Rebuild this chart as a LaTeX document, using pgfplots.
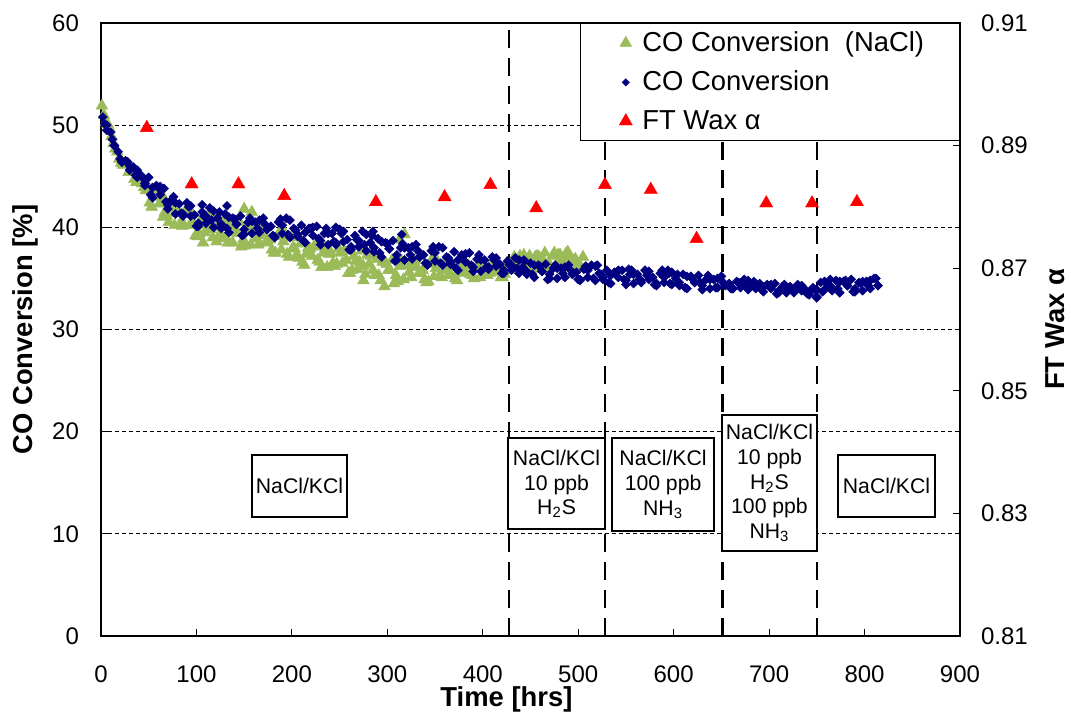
\documentclass[border=0pt]{standalone}
\usepackage{fontspec}
\setmainfont{Liberation Sans}
\usepackage{pgfplots}
\pgfplotsset{compat=1.18}
\definecolor{cogreen}{HTML}{9BBB59}
\definecolor{conavy}{HTML}{000080}
\definecolor{wred}{HTML}{FF0000}
\newcommand{\tfont}{\fontsize{12}{14}\selectfont}
\newcommand{\lfont}{\fontsize{13.7}{16}\selectfont}
\begin{document}
\begin{tikzpicture}[box/.style={draw=black, line width=1pt, fill=white, align=center, inner sep=0pt, font=\fontsize{10.6}{12.3}\selectfont}]
\begin{axis}[
  scale only axis, width=429.5pt, height=306.5pt,
  xmin=0, xmax=900, ymin=0, ymax=60,
  xtick={0,100,...,900}, ytick={0,10,...,60},
  xtick pos=bottom, ytick pos=left,
  tick align=inside, major tick length=3.5pt,
  tick style={black, line width=0.6pt},
  axis line style={black, line width=1.1pt},
  ymajorgrids, major grid style={black, line width=0.5pt, dash pattern=on 2pt off 1.5pt},
  tick label style={font=\tfont},
  /pgf/number format/assume math mode=true,
  xticklabel style={yshift=-11.5pt},
  yticklabel style={xshift=-7.5pt},
  xlabel={Time [hrs]},
  xlabel style={at={(axis description cs:0.472,-0.104)}, anchor=center, font=\lfont\bfseries},
  ylabel={CO Conversion [\%]},
  ylabel style={at={(axis description cs:-0.0885,0.5)}, anchor=center, font=\lfont\bfseries},
  clip=false,
]
\coordinate (O) at (rel axis cs:0,0);
% CO Conversion (NaCl)
\addplot[only marks, mark=triangle*, mark size=3.4pt, color=cogreen, mark options={line width=0.2pt}] table[row sep=\\] {
1 51.9\\5 50.3\\9 49.7\\13 48.2\\17 47.4\\21 46.3\\25 46.3\\29 45.4\\33 45.7\\37 44.4\\
41 44.5\\45 43.9\\49 44.0\\53 42.0\\57 43.4\\61 42.3\\65 43.0\\69 41.1\\73 41.8\\77 40.2\\
81 41.4\\85 40.1\\89 41.7\\93 40.2\\97 40.4\\101 39.1\\105 40.8\\109 39.5\\113 41.3\\117 39.0\\
121 40.0\\125 39.4\\129 40.6\\133 38.5\\137 40.2\\141 39.5\\145 40.5\\149 38.8\\153 39.7\\157 38.3\\
161 39.7\\165 38.3\\169 40.0\\173 38.6\\177 38.8\\181 37.5\\185 39.1\\189 37.8\\193 39.4\\197 37.1\\
201 38.0\\205 37.3\\209 38.4\\213 36.3\\217 38.0\\221 37.2\\225 38.2\\229 36.6\\233 37.5\\237 36.1\\
241 37.5\\245 36.2\\249 37.9\\253 36.5\\257 36.8\\261 35.5\\265 37.2\\269 35.9\\273 37.7\\277 35.4\\
281 36.4\\285 35.8\\289 36.9\\293 34.8\\297 36.6\\301 35.8\\305 36.8\\309 35.3\\313 36.2\\317 34.9\\
321 36.3\\325 35.1\\329 36.8\\333 35.5\\337 35.8\\341 34.6\\345 36.4\\349 35.2\\353 36.6\\357 35.1\\
361 35.9\\365 35.4\\369 36.2\\373 34.8\\377 36.0\\381 35.5\\385 36.3\\389 35.3\\393 36.0\\397 35.1\\
401 36.1\\405 35.3\\409 36.5\\413 35.6\\417 35.9\\421 35.1\\425 36.5\\429 35.8\\433 37.1\\437 35.8\\
441 36.7\\445 36.3\\449 37.2\\453 35.9\\457 37.2\\461 36.7\\465 37.5\\469 36.5\\473 37.2\\477 36.3\\
481 37.3\\485 36.5\\489 37.6\\493 36.7\\497 36.9\\501 36.0\\505 37.1\\
3 51.0\\11 48.9\\19 46.7\\27 46.2\\35 44.7\\43 44.3\\51 42.4\\59 43.2\\67 41.5\\75 42.3\\
83 40.4\\91 41.3\\99 39.2\\107 40.3\\115 39.8\\123 40.9\\131 39.0\\139 40.1\\147 38.1\\155 40.1\\
163 38.9\\171 39.2\\179 37.8\\187 39.5\\195 37.4\\203 37.9\\211 36.6\\219 37.9\\227 36.8\\235 38.0\\
243 36.5\\251 37.5\\259 35.5\\267 36.7\\275 36.2\\283 37.2\\291 35.3\\299 36.4\\307 34.5\\315 36.7\\
323 35.6\\331 36.1\\339 34.9\\347 36.9\\355 35.3\\363 35.8\\371 35.0\\379 36.0\\387 35.4\\395 36.4\\
403 35.5\\411 36.3\\419 35.1\\427 36.2\\435 36.3\\443 37.3\\451 36.2\\459 37.1\\467 36.0\\475 37.5\\
483 36.8\\491 37.1\\499 36.2\\
7 50.1\\15 47.7\\23 46.1\\31 45.5\\39 45.1\\47 43.6\\55 43.0\\63 43.0\\71 40.5\\79 41.4\\
87 40.2\\95 41.4\\103 39.4\\111 40.2\\119 40.9\\127 38.9\\135 40.3\\143 39.4\\151 38.2\\159 39.7\\
167 39.7\\175 38.5\\183 37.5\\191 38.6\\199 39.0\\207 37.0\\215 37.4\\223 38.1\\231 36.1\\239 37.4\\
247 36.4\\255 37.7\\263 35.8\\271 36.6\\279 37.3\\287 35.3\\295 36.6\\303 35.8\\311 34.7\\319 36.3\\
327 36.5\\335 35.5\\343 34.7\\351 36.0\\359 36.5\\367 35.3\\375 35.6\\383 36.2\\391 35.0\\399 36.0\\
407 35.5\\415 36.4\\423 35.4\\431 36.4\\439 37.2\\447 36.0\\455 37.1\\463 36.8\\471 36.1\\479 37.3\\
487 37.4\\495 36.7\\503 36.1\\
65 41.0\\107 38.5\\121 38.6\\138 38.5\\148 38.3\\150 41.8\\158 41.5\\275 34.8\\297 34.2\\313 38.8\\318 39.3\\
};
% CO Conversion
\addplot[only marks, mark=square*, mark size=1.6pt, color=conavy, mark options={rotate=45, line width=0.2pt}] table[row sep=\\] {
2 50.8\\6 49.5\\10 49.3\\14 48.0\\18 47.4\\22 46.4\\26 46.5\\30 45.6\\34 45.9\\38 44.9\\
42 45.1\\46 44.3\\50 44.9\\54 42.9\\58 44.1\\62 43.2\\66 43.8\\70 42.2\\74 42.7\\78 41.3\\
82 42.3\\86 41.1\\90 42.4\\94 41.1\\98 41.2\\102 40.1\\106 41.5\\110 40.4\\114 41.9\\118 40.0\\
122 40.9\\126 40.3\\130 41.3\\134 39.5\\138 40.9\\142 40.3\\146 41.1\\150 39.8\\154 40.5\\158 39.4\\
162 40.5\\166 39.5\\170 40.9\\174 39.8\\178 40.1\\182 39.0\\186 40.5\\190 39.4\\194 40.9\\198 39.0\\
202 39.9\\206 39.3\\210 40.2\\214 38.5\\218 39.9\\222 39.2\\226 40.1\\230 38.7\\234 39.4\\238 38.3\\
242 39.4\\246 38.3\\250 39.8\\254 38.6\\258 38.8\\262 37.8\\266 39.2\\270 38.1\\274 39.6\\278 37.7\\
282 38.5\\286 38.0\\290 38.9\\294 37.1\\298 38.5\\302 37.9\\306 38.7\\310 37.3\\314 38.0\\318 36.8\\
322 38.0\\326 36.9\\330 38.3\\334 37.1\\338 37.3\\342 36.3\\346 37.7\\350 36.7\\354 38.1\\358 36.3\\
362 37.1\\366 36.6\\370 37.6\\374 35.8\\378 37.3\\382 36.6\\386 37.5\\390 36.1\\394 36.9\\398 35.7\\
402 36.8\\406 35.9\\410 37.1\\414 36.2\\418 36.4\\422 35.5\\426 36.7\\430 35.8\\434 37.0\\438 35.5\\
442 36.1\\446 35.7\\450 36.5\\454 35.1\\458 36.3\\462 35.7\\466 36.4\\470 35.4\\474 36.0\\478 35.0\\
482 36.0\\486 35.1\\490 36.3\\494 35.4\\498 35.6\\502 34.8\\506 35.9\\510 35.1\\514 36.3\\518 34.8\\
522 35.5\\526 35.1\\530 35.8\\534 34.5\\538 35.6\\542 35.1\\546 35.8\\550 34.8\\554 35.4\\558 34.5\\
562 35.4\\566 34.6\\570 35.8\\574 34.9\\578 35.1\\582 34.3\\586 35.5\\590 34.6\\594 35.8\\598 34.4\\
602 35.0\\606 34.6\\610 35.4\\614 34.0\\618 35.2\\622 34.6\\626 35.3\\630 34.3\\634 34.9\\638 34.0\\
642 34.9\\646 34.1\\650 35.2\\654 34.3\\658 34.5\\662 34.0\\666 34.7\\670 34.1\\674 34.9\\678 33.9\\
682 34.3\\686 34.1\\690 34.5\\694 33.7\\698 34.4\\702 34.0\\706 34.5\\710 33.8\\714 34.2\\718 33.6\\
722 34.2\\726 33.6\\730 34.4\\734 33.8\\738 33.9\\742 33.4\\746 34.1\\750 33.2\\754 34.6\\758 33.9\\
762 34.4\\766 34.1\\770 34.8\\774 33.6\\778 34.7\\782 34.3\\786 34.9\\790 34.0\\794 34.6\\798 33.8\\
802 34.7\\806 34.0\\810 35.0\\814 34.3\\
4 50.1\\12 48.6\\20 46.7\\28 46.4\\36 45.1\\44 44.8\\52 43.2\\60 43.9\\68 42.5\\76 43.0\\
84 41.4\\92 42.0\\100 40.1\\108 41.1\\116 40.7\\124 41.5\\132 39.9\\140 40.8\\148 39.2\\156 40.9\\
164 39.9\\172 40.3\\180 39.2\\188 40.8\\196 39.3\\204 39.7\\212 38.7\\220 39.9\\228 38.9\\236 39.9\\
244 38.6\\252 39.4\\260 37.8\\268 38.8\\276 38.3\\284 39.2\\292 37.5\\300 38.4\\308 36.7\\316 38.4\\
324 37.3\\332 37.7\\340 36.5\\348 38.1\\356 36.5\\364 37.0\\372 36.0\\380 37.2\\388 36.3\\396 37.3\\
404 36.1\\412 36.8\\420 35.5\\428 36.3\\436 36.0\\444 36.7\\452 35.4\\460 36.2\\468 34.9\\476 36.3\\
484 35.5\\492 35.8\\500 34.9\\508 36.2\\516 35.0\\524 35.4\\532 34.6\\540 35.6\\548 34.9\\556 35.8\\
564 34.9\\572 35.3\\580 34.4\\588 35.8\\596 34.5\\604 35.4\\612 34.1\\620 34.9\\628 34.6\\636 35.3\\
644 34.1\\652 34.6\\660 34.0\\668 34.6\\676 34.2\\684 34.7\\692 33.9\\700 34.3\\708 33.5\\716 34.4\\
724 33.9\\732 34.1\\740 33.5\\748 33.9\\756 33.7\\764 34.9\\772 34.0\\780 34.8\\788 33.7\\796 34.5\\
804 34.3\\812 35.0\\
6 50.0\\14 48.0\\22 46.4\\30 46.0\\38 45.6\\46 44.1\\54 43.9\\62 44.0\\70 41.8\\78 42.4\\
86 41.3\\94 42.1\\102 40.4\\110 41.1\\118 41.6\\126 39.9\\134 41.0\\142 40.3\\150 39.3\\158 40.6\\
166 40.7\\174 39.8\\182 39.1\\190 40.2\\198 40.7\\206 39.1\\214 39.5\\222 40.0\\230 38.3\\238 39.4\\
246 38.5\\254 39.6\\262 38.1\\270 38.7\\278 39.3\\286 37.6\\294 38.6\\302 37.9\\310 36.8\\318 38.0\\
326 38.1\\334 37.1\\342 36.4\\350 37.5\\358 38.0\\366 36.4\\374 36.8\\382 37.4\\390 35.7\\398 36.8\\
406 36.1\\414 37.0\\422 35.8\\430 36.3\\438 36.8\\446 35.4\\454 36.3\\462 35.7\\470 35.0\\478 36.0\\
486 36.1\\494 35.4\\502 34.9\\510 35.8\\518 36.2\\526 34.9\\534 35.3\\542 35.8\\550 34.4\\558 35.4\\
566 34.8\\574 35.7\\582 34.5\\590 35.1\\598 35.6\\606 34.3\\614 35.2\\622 34.6\\630 33.9\\638 34.9\\
646 35.0\\654 34.4\\662 34.0\\670 34.5\\678 34.8\\686 34.0\\694 34.2\\702 34.4\\710 33.6\\718 34.2\\
726 33.7\\734 34.3\\742 33.6\\750 33.9\\758 34.7\\766 33.8\\774 34.7\\782 34.3\\790 33.7\\798 34.7\\
806 34.8\\814 34.3\\
106 42.2\\132 42.1\\246 40.0\\285 39.6\\315 39.3\\443 36.8\\520 36.3\\553 35.9\\595 35.5\\750 33.1\\
};
% phase boundaries
\addplot[forget plot, black, line width=1.3pt, dash pattern=on 9pt off 5pt] coordinates {(427.5,0) (427.5,60)};
\addplot[forget plot, black, line width=1.3pt, dash pattern=on 9pt off 5pt] coordinates {(528,0) (528,60)};
\addplot[forget plot, black, line width=1.3pt, dash pattern=on 9pt off 5pt] coordinates {(651,0) (651,60)};
\addplot[forget plot, black, line width=1.3pt, dash pattern=on 9pt off 5pt] coordinates {(750,0) (750,60)};
\node[box, minimum width=47.5pt, minimum height=31pt] at (axis cs:208,14.68) {NaCl/KCl};
\node[box, minimum width=48.5pt, minimum height=45.5pt] at (axis cs:477.3,14.88) {NaCl/KCl\\10 ppb\\H\textsubscript{2}S};
\node[box, minimum width=51pt, minimum height=46.5pt] at (axis cs:588.9,14.83) {NaCl/KCl\\100 ppb\\NH\textsubscript{3}};
\node[box, minimum width=47.5pt, minimum height=68pt] at (axis cs:700.4,14.97) {NaCl/KCl\\10 ppb\\H\textsubscript{2}S\\100 ppb\\NH\textsubscript{3}};
\node[box, minimum width=48.5pt, minimum height=31pt] at (axis cs:823,14.68) {NaCl/KCl};
\end{axis}
\begin{axis}[
  scale only axis, width=429.5pt, height=306.5pt,
  xmin=0, xmax=900, ymin=0.81, ymax=0.91,
  axis x line=none, axis y line*=right,
  ytick={0.81,0.83,0.85,0.87,0.89,0.91},
  yticklabels={0.81,0.83,0.85,0.87,0.89,0.91},
  tick align=inside, major tick length=3.5pt,
  tick style={black, line width=0.6pt},
  axis line style={black, line width=0.8pt},
  tick label style={font=\tfont},
  yticklabel style={xshift=7pt},
  ylabel={FT Wax α},
  ylabel style={at={(axis description cs:1.1106,0.5)}, anchor=center, font=\lfont\bfseries},
  clip=false,
  legend cell align=left,
  legend image code/.code={\path (-22.5pt,0pt); \draw[#1] plot coordinates {(0pt,0pt)};},
  legend style={at={(1,1)}, anchor=north east, draw=black, line width=0.6pt, fill=white,
    inner xsep=0pt, inner ysep=3pt, font=\lfont, row sep=6.25pt, column sep=1pt,
    nodes={inner xsep=4pt, inner ysep=1pt}},
]
\addlegendimage{only marks, mark=triangle*, mark size=3.4pt, color=cogreen, mark options={line width=0.2pt}}
\addlegendentry{\makebox[154.5pt][l]{CO Conversion~~(NaCl)}}
\addlegendimage{only marks, mark=square*, mark size=1.3pt, color=conavy, mark options={rotate=45, line width=0.2pt}}
\addlegendentry{\makebox[154.5pt][l]{CO Conversion}}
\addplot[only marks, mark=triangle*, mark size=3.8pt, color=wred, mark options={line width=0.2pt}] coordinates {
(48,0.8929) (95,0.8837) (144,0.8837) (192,0.8818) (288,0.8808) (360,0.8816) (408,0.8836)
(456,0.8798) (528,0.8836) (576,0.8828) (624,0.8748) (697,0.8806) (745,0.8806) (792,0.8808)
};
\addlegendentry{\makebox[154.5pt][l]{FT Wax α}}
\end{axis}
\pgfresetboundingbox
\path (O) ++(-50.5pt,-38.5pt) rectangle ++(535.5pt,356.5pt);
\end{tikzpicture}
\end{document}
